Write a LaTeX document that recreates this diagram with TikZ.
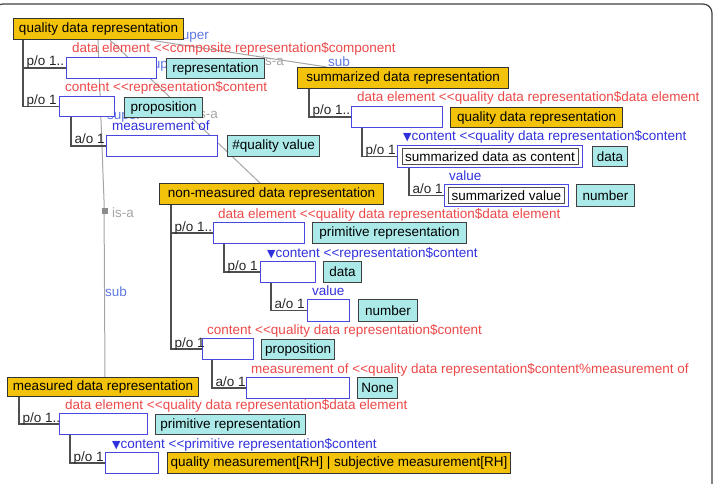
\documentclass[tikz,border=0pt]{standalone}
\usepackage{fontspec}
\setmainfont{Liberation Sans}
\newfontfamily\symfont{DejaVu Sans}
\usetikzlibrary{positioning,calc}

\definecolor{clsgold}{RGB}{243,194,10}
\definecolor{typcyan}{RGB}{172,234,234}
\definecolor{slotblue}{RGB}{72,72,222}
\definecolor{rolered}{RGB}{236,72,72}
\definecolor{roleblue}{RGB}{48,48,220}
\definecolor{linkblue}{RGB}{96,120,226}
\definecolor{isagray}{RGB}{165,165,165}
\definecolor{treegray}{RGB}{78,78,78}

\newcommand{\dgfont}{\fontsize{13.5pt}{15pt}\selectfont}
\newcommand{\downtri}{{\symfont\fontsize{11pt}{11pt}\selectfont ▼}}
\newcommand{\dbllt}{<{}<}

\tikzset{
  sz/.style 2 args={minimum width=#1pt, minimum height=#2pt},
  cls/.style={draw=black!80, fill=clsgold, line width=1.1pt, inner sep=0pt, anchor=north west, font=\dgfont},
  typ/.style={draw=black!75, fill=typcyan, line width=1.1pt, inner sep=0pt, anchor=north west, font=\dgfont},
  slot/.style={draw=slotblue, fill=white, line width=1pt, inner sep=0pt, anchor=north west},
  inbox/.style={draw=black!70, fill=white, line width=0.9pt, inner sep=0pt, font=\dgfont},
  role/.style={anchor=base west, inner sep=0pt, font=\dgfont},
  card/.style={anchor=base west, inner sep=0pt, font=\dgfont, text=black!85},
  tree/.style={draw=treegray, line width=1.4pt},
  isa/.style={draw=isagray, line width=1pt},
  isamark/.style={fill=black!45, minimum size=6pt, inner sep=0pt},
  isatext/.style={text=isagray, font=\dgfont, inner sep=0pt, anchor=west},
  linktext/.style={text=linkblue, font=\dgfont, inner sep=0pt, anchor=west},
}

\begin{document}
\begin{tikzpicture}[x=1pt, y=-1pt]
    \useasboundingbox (0,0) rectangle (715,484);
    \clip (0,0) rectangle (715,484);

    % window frame
    \draw[black!75, line width=1.2pt, rounded corners=9pt] (-6,4) rectangle (712,500);

    % class boxes (positions needed by the is-a links)
    \node[cls, sz={170}{21}] (qdr) at (13,18) {quality data representation};
    \node[cls, sz={211}{21}] (sdr) at (297,67) {summarized data representation};
    \node[cls, sz={224}{21}] (nmdr) at (159,183) {non-measured data representation};
    \node[cls, sz={191}{19}] (mdr) at (7,377) {measured data representation};

    % is-a links, drawn behind everything else
    \coordinate (bendA) at (104,200);
    \draw[isa] ([xshift=85pt]qdr.south west) -- (bendA) -- ([xshift=98pt]mdr.north west);
    \draw[isa] ([xshift=97pt]qdr.south west) -- ([xshift=101pt]nmdr.north west);
    \draw[isa] ([xshift=137pt]qdr.south west) -- ([xshift=30pt]sdr.north west);

    \node[linktext] (supA) at (107,117) {super};
    \node[isamark] (markA) at (105,211) {};
    \node[isatext] (isaA) at (112,213) {is-a};
    \node[linktext] (subA) at (105,292) {sub};

    \node[linktext] (supB) at (146,66) {super};
    \node[isamark] (markB) at (190,108) {};
    \node[isatext] (isaB) at (196,114) {is-a};

    \node[linktext] (supC) at (175,37) {super};
    \node[isamark] (markC) at (253,63) {};
    \node[isatext] (isaC) at (262,61) {is-a};
    \node[linktext] (subC) at (328,62) {sub};

    % redraw the class boxes on top of the links
    \node[cls, sz={170}{21}] at (13,18) {quality data representation};
    \node[cls, sz={211}{21}] at (297,67) {summarized data representation};
    \node[cls, sz={224}{21}] at (159,183) {non-measured data representation};
    \node[cls, sz={191}{19}] at (7,377) {measured data representation};

    % quality data representation
    \node[slot, sz={90}{21}] (s1) at (66,57) {};
    \node[typ, sz={98}{20}] (rep) at (166,58) {representation};
    \node[slot, sz={55}{20}] (s2) at (59,96) {};
    \node[typ, sz={78}{20}] (prop1) at (124,97) {proposition};
    \node[slot, sz={111}{21}] (s3) at (106,135) {};
    \node[typ, sz={92}{21}] (qval) at (227,135) {\#quality value};

    \node[role, text=rolered] (r1) at ([shift={(6pt,4pt)}]s1.north west) {data element \dbllt composite representation\$component};
    \node[role, text=rolered] (r2) at ([shift={(6pt,4pt)}]s2.north west) {content \dbllt representation\$content};
    \node[role, text=roleblue] (r3) at ([shift={(6pt,4pt)}]s3.north west) {measurement of};

    \draw[tree] ([xshift=10pt]qdr.south west) |- (s1.west) node[card, pos=.5, xshift=3pt, yshift=2pt] (c1) {p/o 1..};
    \draw[tree] ([xshift=10pt]qdr.south west) |- (s2.west) node[card, pos=.5, xshift=3pt, yshift=2pt] (c2) {p/o 1};
    \draw[tree] ([xshift=12pt]s2.south west) |- (s3.west) node[card, pos=.5, xshift=3pt, yshift=2pt] (c3) {a/o 1};

    % summarized data representation
    \node[slot, sz={91}{21}] (s4) at (351,106) {};
    \node[cls, sz={172}{20}] (qdr2) at (450,107) {quality data representation};
    \node[slot, sz={185}{22}] (s5) at (397,145) {};
    \node[inbox, sz={176}{16}] (sdc) at (s5) {summarized data as content};
    \node[typ, sz={35}{20}] (data1) at (592,146) {data};
    \node[slot, sz={124}{22}] (s6) at (444,184) {};
    \node[inbox, sz={116}{16}] (sval) at (s6) {summarized value};
    \node[typ, sz={58}{22}] (num1) at (576,184) {number};

    \node[role, text=rolered] (r4) at ([shift={(6pt,4pt)}]s4.north west) {data element \dbllt quality data representation\$data element};
    \node[role, text=roleblue] (r5) at ([shift={(6pt,4pt)}]s5.north west) {\downtri content \dbllt quality data representation\$content};
    \node[role, text=roleblue] (r6) at ([shift={(5pt,4pt)}]s6.north west) {value};

    \draw[tree] ([xshift=12pt]sdr.south west) |- (s4.west) node[card, pos=.5, xshift=3pt, yshift=2pt] (c4) {p/o 1..};
    \draw[tree] ([xshift=11pt]s4.south west) |- (s5.west) node[card, pos=.5, xshift=3pt, yshift=2pt] (c5) {p/o 1};
    \draw[tree] ([xshift=12pt]s5.south west) |- (s6.west) node[card, pos=.5, xshift=3pt, yshift=2pt] (c6) {a/o 1};

    % non-measured data representation
    \node[slot, sz={91}{21}] (s7) at (213,222) {};
    \node[typ, sz={154}{21}] (prim1) at (312,222) {primitive representation};
    \node[slot, sz={55}{21}] (s8) at (260,261) {};
    \node[typ, sz={38}{21}] (data2) at (323,261) {data};
    \node[slot, sz={42}{22}] (s9) at (307,299) {};
    \node[typ, sz={59}{22}] (num2) at (358,299) {number};
    \node[slot, sz={51}{21}] (s10) at (202,338) {};
    \node[typ, sz={73}{20}] (prop2) at (261,339) {proposition};
    \node[slot, sz={103}{21}] (s11) at (246,377) {};
    \node[typ, sz={40}{21}] (none) at (357,377) {None};

    \node[role, text=rolered] (r7) at ([shift={(5pt,4pt)}]s7.north west) {data element \dbllt quality data representation\$data element};
    \node[role, text=roleblue] (r8) at ([shift={(7pt,4pt)}]s8.north west) {\downtri content \dbllt representation\$content};
    \node[role, text=roleblue] (r9) at ([shift={(5pt,4pt)}]s9.north west) {value};
    \node[role, text=rolered] (r10) at ([shift={(5pt,4pt)}]s10.north west) {content \dbllt quality data representation\$content};
    \node[role, text=rolered] (r11) at ([shift={(5pt,4pt)}]s11.north west) {measurement of \dbllt quality data representation\$content\%measurement of};

    \draw[tree] ([xshift=12pt]nmdr.south west) |- (s7.west) node[card, pos=.5, xshift=3pt, yshift=2pt] (c7) {p/o 1..};
    \draw[tree] ([xshift=12pt]nmdr.south west) |- (s10.west) node[card, pos=.5, xshift=3pt, yshift=2pt] (c10) {p/o 1};
    \draw[tree] ([xshift=11pt]s7.south west) |- (s8.west) node[card, pos=.5, xshift=3pt, yshift=2pt] (c8) {p/o 1};
    \draw[tree] ([xshift=11pt]s8.south west) |- (s9.west) node[card, pos=.5, xshift=3pt, yshift=2pt] (c9) {a/o 1};
    \draw[tree] ([xshift=10pt]s10.south west) |- (s11.west) node[card, pos=.5, xshift=3pt, yshift=2pt] (c11) {a/o 1};

    % measured data representation
    \node[slot, sz={88}{21}] (s12) at (59,413) {};
    \node[typ, sz={150}{20}] (prim2) at (155,414) {primitive representation};
    \node[slot, sz={53}{21}] (s13) at (105,452) {};
    \node[cls, sz={343}{21}] (qmeas) at (167,452) {quality measurement[RH] | subjective measurement[RH]};

    \node[role, text=rolered] (r12) at ([shift={(6pt,4pt)}]s12.north west) {data element \dbllt quality data representation\$data element};
    \node[role, text=roleblue] (r13) at ([shift={(7pt,4pt)}]s13.north west) {\downtri content \dbllt primitive representation\$content};

    \draw[tree] ([xshift=12pt]mdr.south west) |- (s12.west) node[card, pos=.5, xshift=3pt, yshift=2pt] (c12) {p/o 1..};
    \draw[tree] ([xshift=11pt]s12.south west) |- (s13.west) node[card, pos=.5, xshift=3pt, yshift=2pt] (c13) {p/o 1};
\end{tikzpicture}
\end{document}
